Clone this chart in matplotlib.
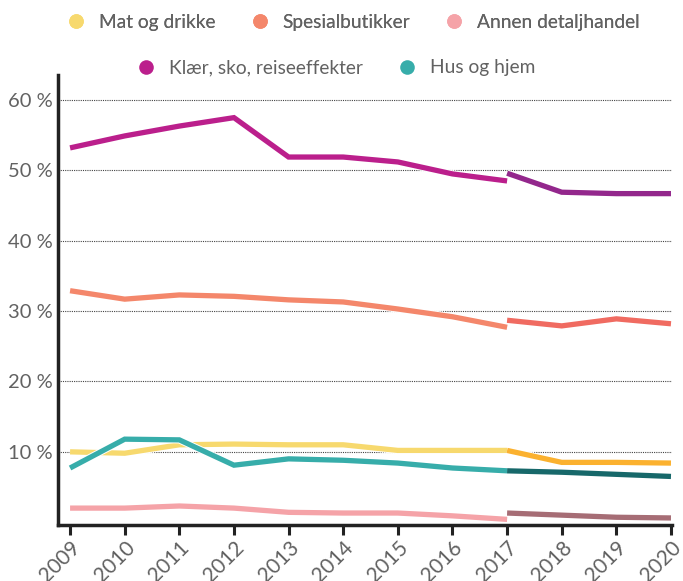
import matplotlib
matplotlib.use("Agg")
import matplotlib.pyplot as plt
import matplotlib.patheffects as pe
from matplotlib.lines import Line2D

plt.rcParams['font.family'] = ['Lato', 'DejaVu Sans']

years_a = [2009, 2010, 2011, 2012, 2013, 2014, 2015, 2016, 2017]
years_b = [2017, 2018, 2019, 2020]

names = ["Mat og drikke", "Spesialbutikker", "Annen detaljhandel",
         "Klær, sko, reiseeffekter", "Hus og hjem"]

mat_a = [10.0, 9.8, 11.0, 11.1, 11.0, 11.0, 10.2, 10.2, 10.2]
mat_b = [10.2, 8.5, 8.5, 8.4]
spes_a = [32.9, 31.7, 32.3, 32.1, 31.6, 31.3, 30.3, 29.2, 27.7]
spes_b = [28.7, 27.9, 28.9, 28.2]
annen_a = [2.0, 2.0, 2.3, 2.0, 1.4, 1.3, 1.3, 0.9, 0.4]
annen_b = [1.3, 1.0, 0.7, 0.6]
klaer_a = [53.2, 54.9, 56.3, 57.5, 51.9, 51.9, 51.2, 49.5, 48.5]
klaer_b = [49.6, 46.9, 46.7, 46.7]
hus_a = [7.7, 11.8, 11.7, 8.1, 9.0, 8.8, 8.4, 7.7, 7.3]
hus_b = [7.3, 7.1, 6.8, 6.5]

series_a = [mat_a, spes_a, annen_a, klaer_a, hus_a]
series_b = [mat_b, spes_b, annen_b, klaer_b, hus_b]
colors_a = ["#F7D96E", "#F4876B", "#F5A3A8", "#BB1F8C", "#37ADAA"]
colors_b = ["#FBB12F", "#F06B61", "#A66D75", "#93278C", "#17686A"]

text_col = "#626262"

fig = plt.figure(figsize=(6.83, 5.81), dpi=100)
ax = fig.add_axes([0.085, 0.0964, 0.899, 0.775])

outline = [pe.withStroke(linewidth=5.2, foreground="white")]
for ya, yb, ca, cb in zip(series_a, series_b, colors_a, colors_b):
    ax.plot(years_a, ya, color=ca, lw=3.8, solid_capstyle='butt',
            solid_joinstyle='miter', path_effects=outline, zorder=3)
    ax.plot(years_b, yb, color=cb, lw=3.8, solid_capstyle='butt',
            solid_joinstyle='miter', path_effects=outline, zorder=4)

all_years = years_a + years_b[1:]
ax.set_xlim(2008.78, 2020.02)
ax.set_ylim(-0.4, 63.6)
ax.set_xticks(all_years)
ax.set_xticklabels([str(y) for y in all_years], rotation=45,
                   ha='right', va='top', rotation_mode='anchor',
                   fontsize=15, color=text_col)
ax.set_yticks([10, 20, 30, 40, 50, 60])
ax.set_yticklabels([f"{v} %" for v in [10, 20, 30, 40, 50, 60]],
                   fontsize=14.5, color=text_col)
ax.tick_params(axis='y', length=0, pad=4)
ax.tick_params(axis='x', length=7, width=2.2, color="#222222", pad=2)
ax.grid(axis='y', linestyle=(0, (1, 1)), color="#444444", lw=0.8)
ax.set_axisbelow(True)
for s in ['top', 'right']:
    ax.spines[s].set_visible(False)
for s in ['left', 'bottom']:
    ax.spines[s].set_linewidth(2.5)
    ax.spines[s].set_color("#222222")

def handles(idx):
    return [Line2D([], [], ls='none', marker='o', markersize=10.5,
                   markerfacecolor=colors_a[i], markeredgecolor='none')
            for i in idx]

leg1 = fig.legend(handles([0, 1, 2]), [names[i] for i in [0, 1, 2]],
                  loc='center', bbox_to_anchor=(0.51, 0.962), ncol=3,
                  frameon=False, handletextpad=0.2, columnspacing=1.3,
                  prop={'size': 13.8}, labelcolor=text_col)
leg2 = fig.legend(handles([3, 4]), [names[i] for i in [3, 4]],
                  loc='center', bbox_to_anchor=(0.485, 0.883), ncol=2,
                  frameon=False, handletextpad=0.2, columnspacing=1.3,
                  prop={'size': 13.8}, labelcolor=text_col)
fig.add_artist(leg1)

fig.savefig("out.png", dpi=100)
